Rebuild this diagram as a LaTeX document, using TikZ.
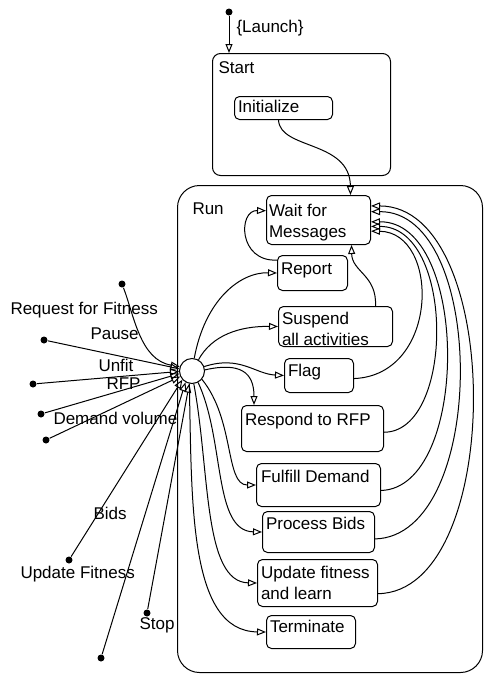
\documentclass[tikz,border=0pt]{standalone}
\usepackage{fontspec}
\setmainfont{Liberation Sans}
\usetikzlibrary{arrows.meta}
\begin{document}
\begin{tikzpicture}[x=1pt,y=-1pt, line width=1pt,
  tr/.style={-{Triangle[open,length=9pt,width=7pt]}},
  st/.style={draw, rounded corners=5, inner sep=0, anchor=north west},
  txt/.style={draw=none, fill=none, anchor=base west, inner sep=0, minimum width=0, minimum height=0, align=left, font=\fontsize{17}{21}\selectfont},
  dot/.style={circle, fill, inner sep=0, minimum size=7},
]
\useasboundingbox (0,0) rectangle (484,675);

% Start composite
\node[st, rounded corners=8, minimum width=178, minimum height=122] (start) at (212,53) {};
\node[txt] (startlbl) at (218,73.5) {Start};
\node[dot] (launchdot) at (229,12) {};
\draw[tr] (launchdot) -- (launchdot |- start.north);
\node[txt] (launchlbl) at (236,32.5) {\{Launch\}};
\node[st, minimum width=98, minimum height=23,
  path picture={\node[txt] at ([shift={(3,16)}]path picture bounding box.north west) {Initialize};}] (init) at (234,96) {};

% Run composite
\node[st, rounded corners=22, minimum width=305, minimum height=487] (run) at (177,185) {};
\node[txt] (runlbl) at (192,214.5) {Run};

\node[st, minimum width=104, minimum height=49,
  path picture={\node[txt] at ([shift={(2,41.5)}]path picture bounding box.north west) {Wait for\\Messages};}] (wait) at (266,195) {};
\node[st, minimum width=70, minimum height=35,
  path picture={\node[txt] at ([shift={(3,19)}]path picture bounding box.north west) {Report};}] (report) at (277,255) {};
\node[st, minimum width=114, minimum height=40,
  path picture={\node[txt] at ([shift={(3,39)}]path picture bounding box.north west) {Suspend\\all activities};}] (suspend) at (278,306) {};
\node[st, minimum width=69, minimum height=34,
  path picture={\node[txt] at ([shift={(3,17.5)}]path picture bounding box.north west) {Flag};}] (flag) at (284,358) {};
\node[st, minimum width=142, minimum height=46,
  path picture={\node[txt] at ([shift={(3,20)}]path picture bounding box.north west) {Respond to RFP};}] (respond) at (241,405) {};
\node[st, minimum width=124, minimum height=43,
  path picture={\node[txt] at ([shift={(4,19)}]path picture bounding box.north west) {Fulfill Demand};}] (fulfill) at (256,463) {};
\node[st, minimum width=112, minimum height=41,
  path picture={\node[txt] at ([shift={(3,18)}]path picture bounding box.north west) {Process Bids};}] (process) at (262,511) {};
\node[st, minimum width=120, minimum height=47,
  path picture={\node[txt] at ([shift={(3,40)}]path picture bounding box.north west) {Update fitness\\and learn};}] (update) at (257,559) {};
\node[st, minimum width=89, minimum height=33,
  path picture={\node[txt] at ([shift={(3,17)}]path picture bounding box.north west) {Terminate};}] (terminate) at (266,615) {};

% junction
\node[circle, draw, fill=white, inner sep=0, minimum size=25] (j) at (192,371) {};

% initial transition into Run
\draw[tr] ([xshift=-5]init.south) .. controls (280,150) and (350,140) .. ([xshift=32]wait.north);

% transitions from junction
\draw[tr] (j.80) .. controls (205,300) and (240,272) .. (report.west);
\draw[tr] (j.60) .. controls (212,335) and (240,326) .. (suspend.west);
\draw[tr] (j.20) .. controls (240,355) and (255,374) .. (flag.west);
\draw[tr] (j.5) .. controls (240,362) and (254,372) .. ([xshift=13]respond.north west);
\draw[tr] (j.-40) .. controls (235,420) and (225,485) .. (fulfill.west);
\draw[tr] (j.-62) .. controls (225,440) and (213,531) .. (process.west);
\draw[tr] (j.-82) .. controls (210,470) and (203,582) .. (update.west);
\draw[tr] (j.-102) .. controls (192,500) and (188,631) .. (terminate.west);

% returns to Wait for Messages
\draw[tr] (report.160) .. controls (238,262) and (238,210) .. (wait.170);
\draw[tr] ([xshift=40]suspend.north) .. controls (377,275) and (352,272) .. ([xshift=33]wait.south);
\draw[tr] (flag.-5) .. controls (440,375) and (440,232) .. (wait.-12);
\draw[tr] (respond.-3) .. controls (455,432) and (455,226) .. (wait.-7);
\draw[tr] (fulfill.-5) .. controls (470,488) and (470,221) .. (wait.-2);
\draw[tr] (process.-7) .. controls (488,536) and (488,211) .. (wait.9);
\draw[tr] (update.-10) .. controls (505,592) and (505,206) .. (wait.15);

% incoming events
\node[dot] (d1) at (122,284) {};
\node[dot] (d2) at (44,340) {};
\node[dot] (d3) at (33,384) {};
\node[dot] (d4) at (41,414) {};
\node[dot] (d5) at (46,440) {};
\node[dot] (d6) at (69,560) {};
\node[dot] (d7) at (147,613) {};
\node[dot] (d8) at (101,658) {};
\draw[tr] (d1) .. controls (134,315) and (140,360) .. (j.160);
\draw[tr] (d2) -- (j.170);
\draw[tr] (d3) -- (j.182);
\draw[tr] (d4) -- (j.192);
\draw[tr] (d5) -- (j.205);
\draw[tr] (d6) -- (j.222);
\draw[tr] (d8) -- (j.240);
\draw[tr] (d7) -- (j.258);

\node[txt] (l1) at (10,314.5) {Request for Fitness};
\node[txt] (l2) at (90,339.5) {Pause};
\node[txt] (l3) at (98,371.5) {Unfit};
\node[txt] (l4) at (106,389.5) {RFP};
\node[txt] (l5) at (53,424.5) {Demand volume};
\node[txt] (l6) at (93,519.5) {Bids};
\node[txt] (l7) at (20,578.5) {Update Fitness};
\node[txt] (l8) at (139,629.5) {Stop};
\end{tikzpicture}
\end{document}
